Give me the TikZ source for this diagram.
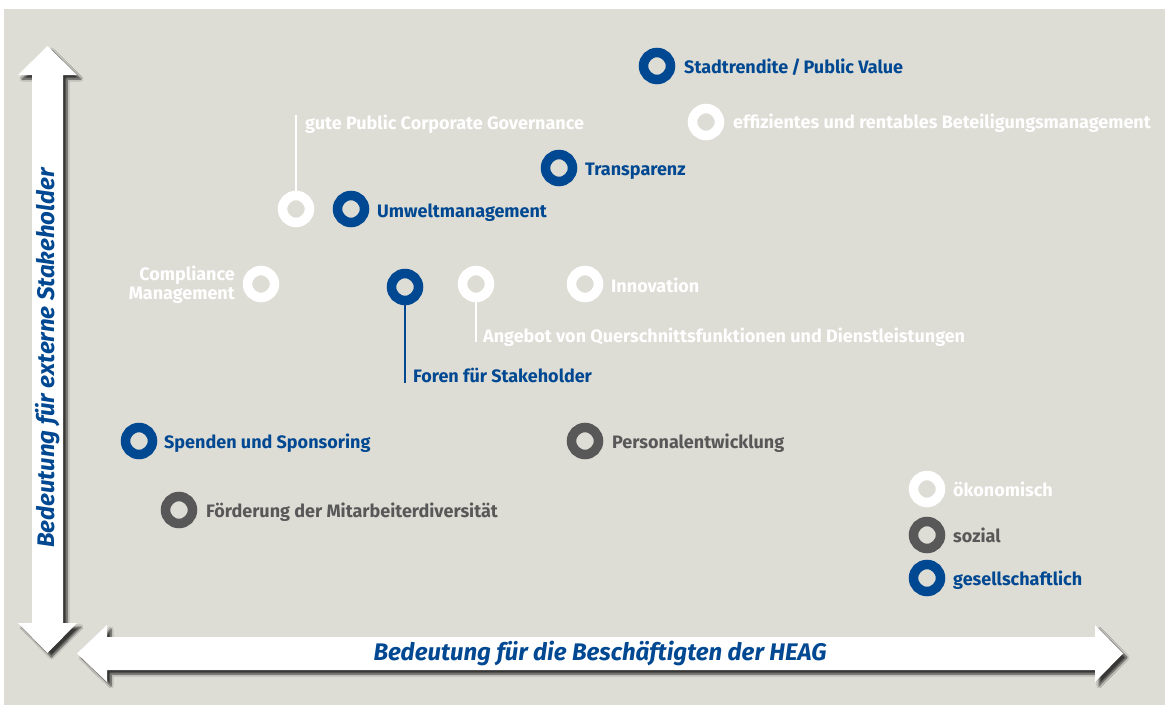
\documentclass[tikz,border=0pt]{standalone}
\usepackage{fontspec}
\setmainfont{Fira Sans}
\usetikzlibrary{shadows.blur}
\definecolor{heagblue}{RGB}{0,72,145}
\definecolor{heaggray}{RGB}{88,88,88}
\definecolor{paper}{RGB}{221,220,213}
\tikzset{
  ring/.style={circle,draw=#1,line width=9.5pt,minimum size=27pt,inner sep=0pt},
  lbl/.style={anchor=west,inner sep=0pt,text=#1,text height=13pt,text depth=0pt,
    font=\fontsize{18}{19}\selectfont\bfseries},
  link/.style={draw=#1,line width=2.5pt},
  axis/.style={text=heagblue,inner sep=0pt,font=\fontsize{24}{26}\selectfont\bfseries\itshape},
  bigarrow/.style={fill=white,blur shadow={shadow xshift=4pt,shadow yshift=-4pt,
    shadow blur steps=8,shadow opacity=75}}
}

\begin{document}
\begin{tikzpicture}[x=1pt,y=-1pt]
            \useasboundingbox (0,0) rectangle (1165,705);
            \fill[paper] (4,9) rectangle (1165,705);
            % axes
            \fill[bigarrow] (47.5,46) -- (77,75) -- (63,75) -- (63,623) -- (77,623) -- (47.5,653)
                -- (18,623) -- (32,623) -- (32,75) -- (18,75) -- cycle;
            \fill[bigarrow] (77,653.5) -- (107,625) -- (107,637) -- (1095,637) -- (1095,625)
                -- (1123,653.5) -- (1095,682) -- (1095,670) -- (107,670) -- (107,682) -- cycle;
            \node[axis,rotate=90] (ylab) at (47.5,358) {Bedeutung für externe Stakeholder};
            \node[axis] (xlab) at (600,653.5) {Bedeutung für die Beschäftigten der HEAG};
            % rings
            \node[ring=heagblue] (stadt) at (657,66) {};
            \node[ring=white] (effi) at (706,122) {};
            \node[ring=heagblue] (transp) at (559,168) {};
            \node[ring=white] (gute) at (296,209) {};
            \node[ring=heagblue] (umwelt) at (351,209) {};
            \node[ring=white] (compl) at (261,284) {};
            \node[ring=heagblue] (foren) at (405,287) {};
            \node[ring=white] (angebot) at (476,284) {};
            \node[ring=white] (innov) at (585,284) {};
            \node[ring=heagblue] (spenden) at (139,441) {};
            \node[ring=heaggray] (personal) at (585,441) {};
            \node[ring=heaggray] (foerd) at (179,510) {};
            \node[ring=white] (oeko) at (927,489) {};
            \node[ring=heaggray] (sozial) at (927,535) {};
            \node[ring=heagblue] (gesell) at (927,578) {};
            % leader lines
            \coordinate (gutetop) at (296,115);
            \coordinate (forenbot) at (405,383);
            \coordinate (angebotbot) at (476,342);
            \draw[link=white] (gute) -- (gutetop);
            \draw[link=heagblue] (foren) -- (forenbot);
            \draw[link=white] (angebot) -- (angebotbot);
            % labels
            \node[lbl=heagblue] (stadtl) at (684,67) {Stadtrendite\,/\,Public Value};
            \node[lbl=white] (effil) at (733,122) {effizientes und rentables Beteiligungsmanagement};
            \node[lbl=heagblue] (transpl) at (585,169) {Transparenz};
            \node[lbl=white] (gutel) at (305,123) {gute Public Corporate Governance};
            \node[lbl=heagblue] (umweltl) at (377,211) {Umweltmanagement};
            \node[lbl=white,anchor=east,align=right,text height=,text depth=] (compll) at (235,285) {Compliance\\Management};
            \node[lbl=heagblue] (forenl) at (413,376) {Foren für Stakeholder};
            \node[lbl=white] (angebotl) at (483,336) {Angebot von Querschnittsfunktionen und Dienstleistungen};
            \node[lbl=white] (innovl) at (611,286) {Innovation};
            \node[lbl=heagblue] (spendenl) at (164,442) {Spenden und Sponsoring};
            \node[lbl=heaggray] (personall) at (612,442) {Personalentwicklung};
            \node[lbl=heaggray] (foerdl) at (206,511) {Förderung der Mitarbeiterdiversität};
            \node[lbl=white] (oekol) at (953,490) {ökonomisch};
            \node[lbl=heaggray] (soziall) at (953,536) {sozial};
            \node[lbl=heagblue] (gesell) at (953,579) {gesellschaftlich};
\end{tikzpicture}
\end{document}
